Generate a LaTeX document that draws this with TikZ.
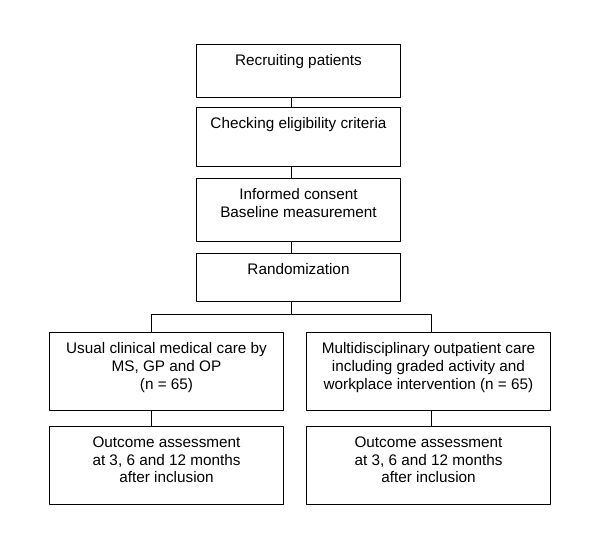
\documentclass[tikz,border=0pt]{standalone}
\usepackage{fontspec}
\setmainfont{Liberation Sans}
\begin{document}
\begin{tikzpicture}[line join=round, x=1pt, y=-1pt]
    \tikzset{
        stepbox/.style={draw, line width=1pt, anchor=north west, inner sep=0pt},
        steptext/.style={anchor=north, inner sep=0pt, align=center, yshift=-10.5pt,
            font=\fontsize{15.3}{17.7}\selectfont},
        link/.style={line width=1pt}
    }
    \useasboundingbox (0,0) rectangle (600,545);
    % main column
    \node[stepbox, minimum width=204, minimum height=53] (recruit) at (196,44) {};
    \node[stepbox, minimum width=204, minimum height=59] (check) at (196,107) {};
    \node[stepbox, minimum width=204, minimum height=63] (consent) at (196,178) {};
    \node[stepbox, minimum width=204, minimum height=48] (random) at (196,253) {};
    \node[steptext] (recruit-t) at (recruit.north) {Recruiting patients};
    \node[steptext] (check-t) at (check.north) {Checking eligibility criteria};
    \node[steptext] (consent-t) at (consent.north) {Informed consent\\Baseline measurement};
    \node[steptext] (random-t) at (random.north) {Randomization};
    % two arms
    \node[stepbox, minimum width=234, minimum height=78] (usual) at (49,332) {};
    \node[stepbox, minimum width=244, minimum height=78] (multi) at (306,332) {};
    \node[stepbox, minimum width=234, minimum height=78] (outusual) at (49,426) {};
    \node[stepbox, minimum width=244, minimum height=78] (outmulti) at (306,426) {};
    \node[steptext] (usual-t) at (usual.north) {Usual clinical medical care by\\MS, GP and OP\\(n = 65)};
    \node[steptext] (multi-t) at (multi.north) {Multidisciplinary outpatient care\\including graded activity and\\workplace intervention (n = 65)};
    \node[steptext] (outusual-t) at (outusual.north) {Outcome assessment\\at 3, 6 and 12 months\\after inclusion};
    \node[steptext] (outmulti-t) at (outmulti.north) {Outcome assessment\\at 3, 6 and 12 months\\after inclusion};
    % connectors
    \coordinate (split) at (291,315);
    \coordinate (lbranch) at (151,315);
    \coordinate (rbranch) at (431,315);
    \draw[link] (recruit.south -| split) -- (check.north -| split);
    \draw[link] (check.south -| split) -- (consent.north -| split);
    \draw[link] (consent.south -| split) -- (random.north -| split);
    \draw[link] (random.south -| split) -- (split);
    \draw[link] (usual.north -| lbranch) -- (lbranch) -- (rbranch) -- (multi.north -| rbranch);
    \draw[link] (usual.south -| lbranch) -- (outusual.north -| lbranch);
    \draw[link] (multi.south -| rbranch) -- (outmulti.north -| rbranch);
\end{tikzpicture}
\end{document}
